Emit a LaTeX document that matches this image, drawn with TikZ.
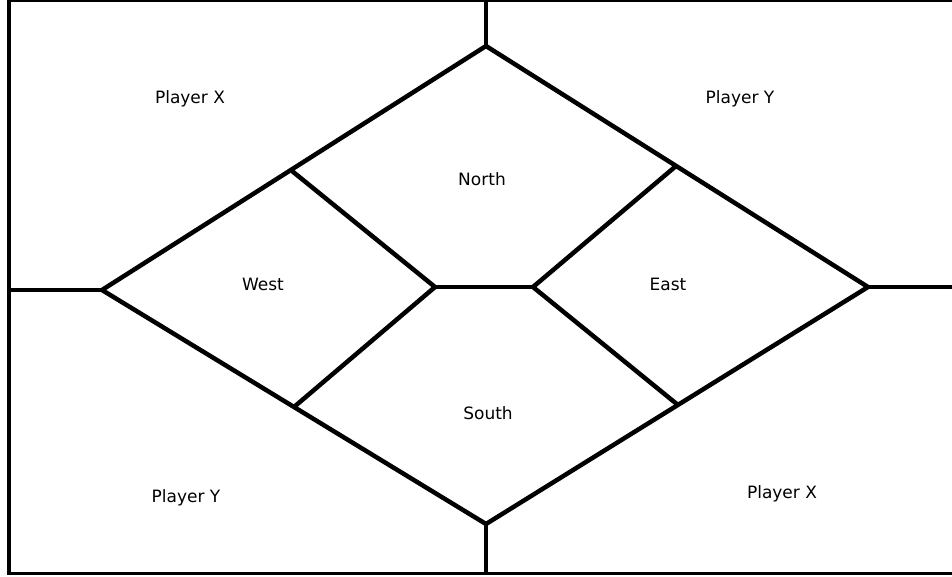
\documentclass[tikz,border=0pt]{standalone}
\usepackage{fontspec}
\setmainfont{DejaVu Sans}
\begin{document}
\begin{tikzpicture}[x=1pt,y=-1pt,
  edge/.style={line width=4.5pt,line cap=butt,line join=miter},
  lbl/.style={font=\fontsize{17}{19}\selectfont,inner sep=0pt}]
\useasboundingbox (0,0) rectangle (952,576);
% frame
\draw[line width=2.5pt] (8,1.2) -- (952,1.2);
\draw[line width=4pt] (9,0) -- (9,575);
\draw[line width=3.5pt] (7,573.5) -- (952,573.5);
% diamond vertices
\coordinate (T) at (486,46);
\coordinate (L) at (102,290);
\coordinate (R) at (868,287);
\coordinate (B) at (486,524);
\coordinate (CL) at (435,287);
\coordinate (CR) at (533,287);
\coordinate (WU) at (292,171);
\coordinate (WL) at (294,407);
\coordinate (EU) at (676,166);
\coordinate (EL) at (678,405);
\coordinate (Ttop) at (486,0);
\coordinate (Lout) at (9,290);
\coordinate (Rout) at (952,287);
\coordinate (Bbot) at (486,573);
\draw[edge] (T) -- (R) -- (B) -- (L) -- cycle;
\draw[edge] (Ttop) -- (T);
\draw[edge] (Lout) -- (L);
\draw[edge] (R) -- (Rout);
\draw[edge] (B) -- (Bbot);
\draw[edge] (CL) -- (CR);
\draw[edge] (WU) -- (CL) -- (WL);
\draw[edge] (EU) -- (CR) -- (EL);
% labels
\node[lbl] (px1) at (190,99) {Player X};
\node[lbl] (py1) at (740,99) {Player Y};
\node[lbl] (n) at (482,179) {North};
\node[lbl] (w) at (263,284) {West};
\node[lbl] (e) at (668,284) {East};
\node[lbl] (s) at (488,413) {South};
\node[lbl] (py2) at (186,498) {Player Y};
\node[lbl] (px2) at (782,494) {Player X};
\end{tikzpicture}
\end{document}
